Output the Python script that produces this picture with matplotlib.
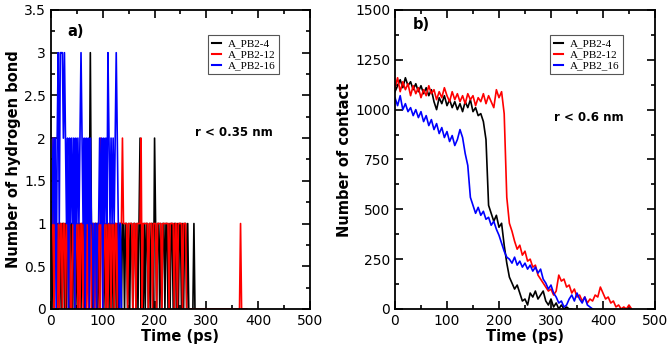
import numpy as np
import matplotlib
matplotlib.use("Agg")
import matplotlib.pyplot as plt
from matplotlib.ticker import MultipleLocator, FormatStrFormatter

# ---- panel a) : hydrogen bonds, one digit per 2 ps frame ----
hb_step = 2
hb_black = ("1010110101" "0110101101" "1011010110" "1101011131" "0101101011"
            "1010110101" "0110101101" "1011010110" "1101012010" "1011010110"
            "2101101011" "0110101101" "1010110101" "1010000010")
hb_red = ("0120110101" "1011011010" "0110110101" "1011010110" "1101011021"
          "0110101101" "1011011112" "1111011110" "1101111201" "1111011101"
          "1101111011" "1111011110" "1101111011" "1000000000"
          "0000000000" "0000000000" "0000000000" "0000000000"
          "0001000000")
hb_blue = ("1121202313" "3323212021" "2120212123" "2120212021" "1011011212"
           "0212132121" "2123210100")

# ---- panel b) : number of contacts, one value per 5 ps ----
nc_step = 5
nc_black = [1090, 1120, 1150, 1110, 1160, 1120, 1140, 1100, 1130, 1090,
            1120, 1080, 1110, 1070, 1100, 1040, 1000, 1060, 1030, 1070,
            1020, 1050, 1010, 1040, 1000, 1030, 990, 1040, 1010, 1050,
            990, 1010, 970, 980, 940, 850, 520, 480, 440, 470,
            410, 430, 320, 230, 160, 130, 100, 120, 80, 40,
            50, 20, 80, 60, 90, 50, 70, 90, 40, 20,
            50, 10, 30, 0, 20, 0, 10, 0, 0]
nc_red = [1110, 1160, 1090, 1140, 1100, 1130, 1070, 1120, 1080, 1110,
          1060, 1100, 1070, 1120, 1080, 1100, 1050, 1090, 1060, 1110,
          1070, 1040, 1090, 1050, 1080, 1040, 1070, 1030, 1080, 1050,
          1070, 1020, 1060, 1040, 1080, 1030, 1070, 1040, 1010, 1100,
          1060, 1090, 980, 560, 430, 390, 340, 300, 320, 270,
          290, 240, 250, 210, 220, 170, 150, 130, 110, 90,
          100, 70, 90, 170, 140, 150, 110, 120, 80, 100,
          60, 70, 40, 60, 30, 50, 40, 70, 60, 110,
          80, 50, 60, 30, 40, 10, 20, 0, 10, 0, 20, 0]
nc_blue = [1060, 1020, 1070, 1000, 1030, 990, 1010, 970, 1000, 960,
           990, 940, 970, 920, 950, 900, 930, 880, 910, 860,
           890, 840, 870, 820, 850, 900, 860, 780, 720, 560,
           520, 480, 510, 470, 490, 450, 460, 420, 440, 400,
           370, 330, 290, 260, 250, 230, 260, 220, 240, 210,
           230, 200, 220, 190, 210, 180, 200, 150, 130, 100,
           120, 80, 60, 30, 40, 10, 20, 50, 70, 40,
           80, 50, 30, 60, 20, 10, 0]

labels_a = ["A_PB2-4", "A_PB2-12", "A_PB2-16"]
labels_b = ["A_PB2-4", "A_PB2-12", "A_PB2_16"]
colors = ["black", "red", "blue"]


def digits(s):
    return np.array([int(c) for c in s])


def style_axes(ax):
    ax.tick_params(which="both", direction="in", top=True, right=True,
                   labelsize=10, width=1.2)
    ax.tick_params(which="major", length=6)
    ax.tick_params(which="minor", length=3)
    for sp in ax.spines.values():
        sp.set_linewidth(1.3)


def add_legend(ax, x0):
    leg = ax.legend(loc="upper left", bbox_to_anchor=(x0, 0.935),
                    prop={"family": "Liberation Serif", "size": 8},
                    handlelength=0.8, handletextpad=0.6, labelspacing=0.1,
                    borderpad=0.35, fancybox=False, edgecolor="#555555",
                    framealpha=1)
    leg.get_frame().set_linewidth(0.8)
    for line in leg.get_lines():
        line.set_linewidth(1.5)


fig = plt.figure(figsize=(6.68, 3.51), dpi=100)
ax1 = fig.add_axes([0.0763, 0.1197, 0.3877, 0.8519])
ax2 = fig.add_axes([0.5913, 0.1197, 0.3892, 0.8519])

# panel a)
for s, c, lab in zip([hb_black, hb_red, hb_blue], colors, labels_a):
    v = digits(s)
    t = np.arange(len(v)) * hb_step
    ax1.plot(t, v, color=c, lw=1.2, label=lab)
ax1.set_xlim(0, 500)
ax1.set_ylim(0, 3.5)
ax1.xaxis.set_major_locator(MultipleLocator(100))
ax1.xaxis.set_minor_locator(MultipleLocator(50))
ax1.yaxis.set_major_locator(MultipleLocator(0.5))
ax1.yaxis.set_minor_locator(MultipleLocator(0.25))
ax1.yaxis.set_major_formatter(FormatStrFormatter("%g"))
ax1.set_xlabel("Time (ps)", fontsize=10.5, fontweight="bold", labelpad=1)
ax1.set_ylabel("Number of hydrogen bond", fontsize=10.5, fontweight="bold", labelpad=2)
ax1.text(31, 3.25, "a)", fontsize=10.5, fontweight="bold", va="center")
ax1.text(353, 2.06, "r < 0.35 nm", fontsize=8.5, fontweight="bold",
         ha="center", va="center")
style_axes(ax1)
add_legend(ax1, 0.585)

# panel b)
for vals, c, lab in zip([nc_black, nc_red, nc_blue], colors, labels_b):
    t = np.arange(len(vals)) * nc_step
    ax2.plot(t, vals, color=c, lw=1.2, label=lab)
ax2.set_xlim(0, 500)
ax2.set_ylim(0, 1500)
ax2.xaxis.set_major_locator(MultipleLocator(100))
ax2.xaxis.set_minor_locator(MultipleLocator(50))
ax2.yaxis.set_major_locator(MultipleLocator(250))
ax2.yaxis.set_minor_locator(MultipleLocator(125))
ax2.set_xlabel("Time (ps)", fontsize=10.5, fontweight="bold", labelpad=1)
ax2.set_ylabel("Number of contact", fontsize=10.5, fontweight="bold", labelpad=2)
ax2.text(35, 1425, "b)", fontsize=10.5, fontweight="bold", va="center")
ax2.text(373, 963, "r < 0.6 nm", fontsize=8.5, fontweight="bold",
         ha="center", va="center")
style_axes(ax2)
add_legend(ax2, 0.575)

fig.savefig("out.png", dpi=100)
